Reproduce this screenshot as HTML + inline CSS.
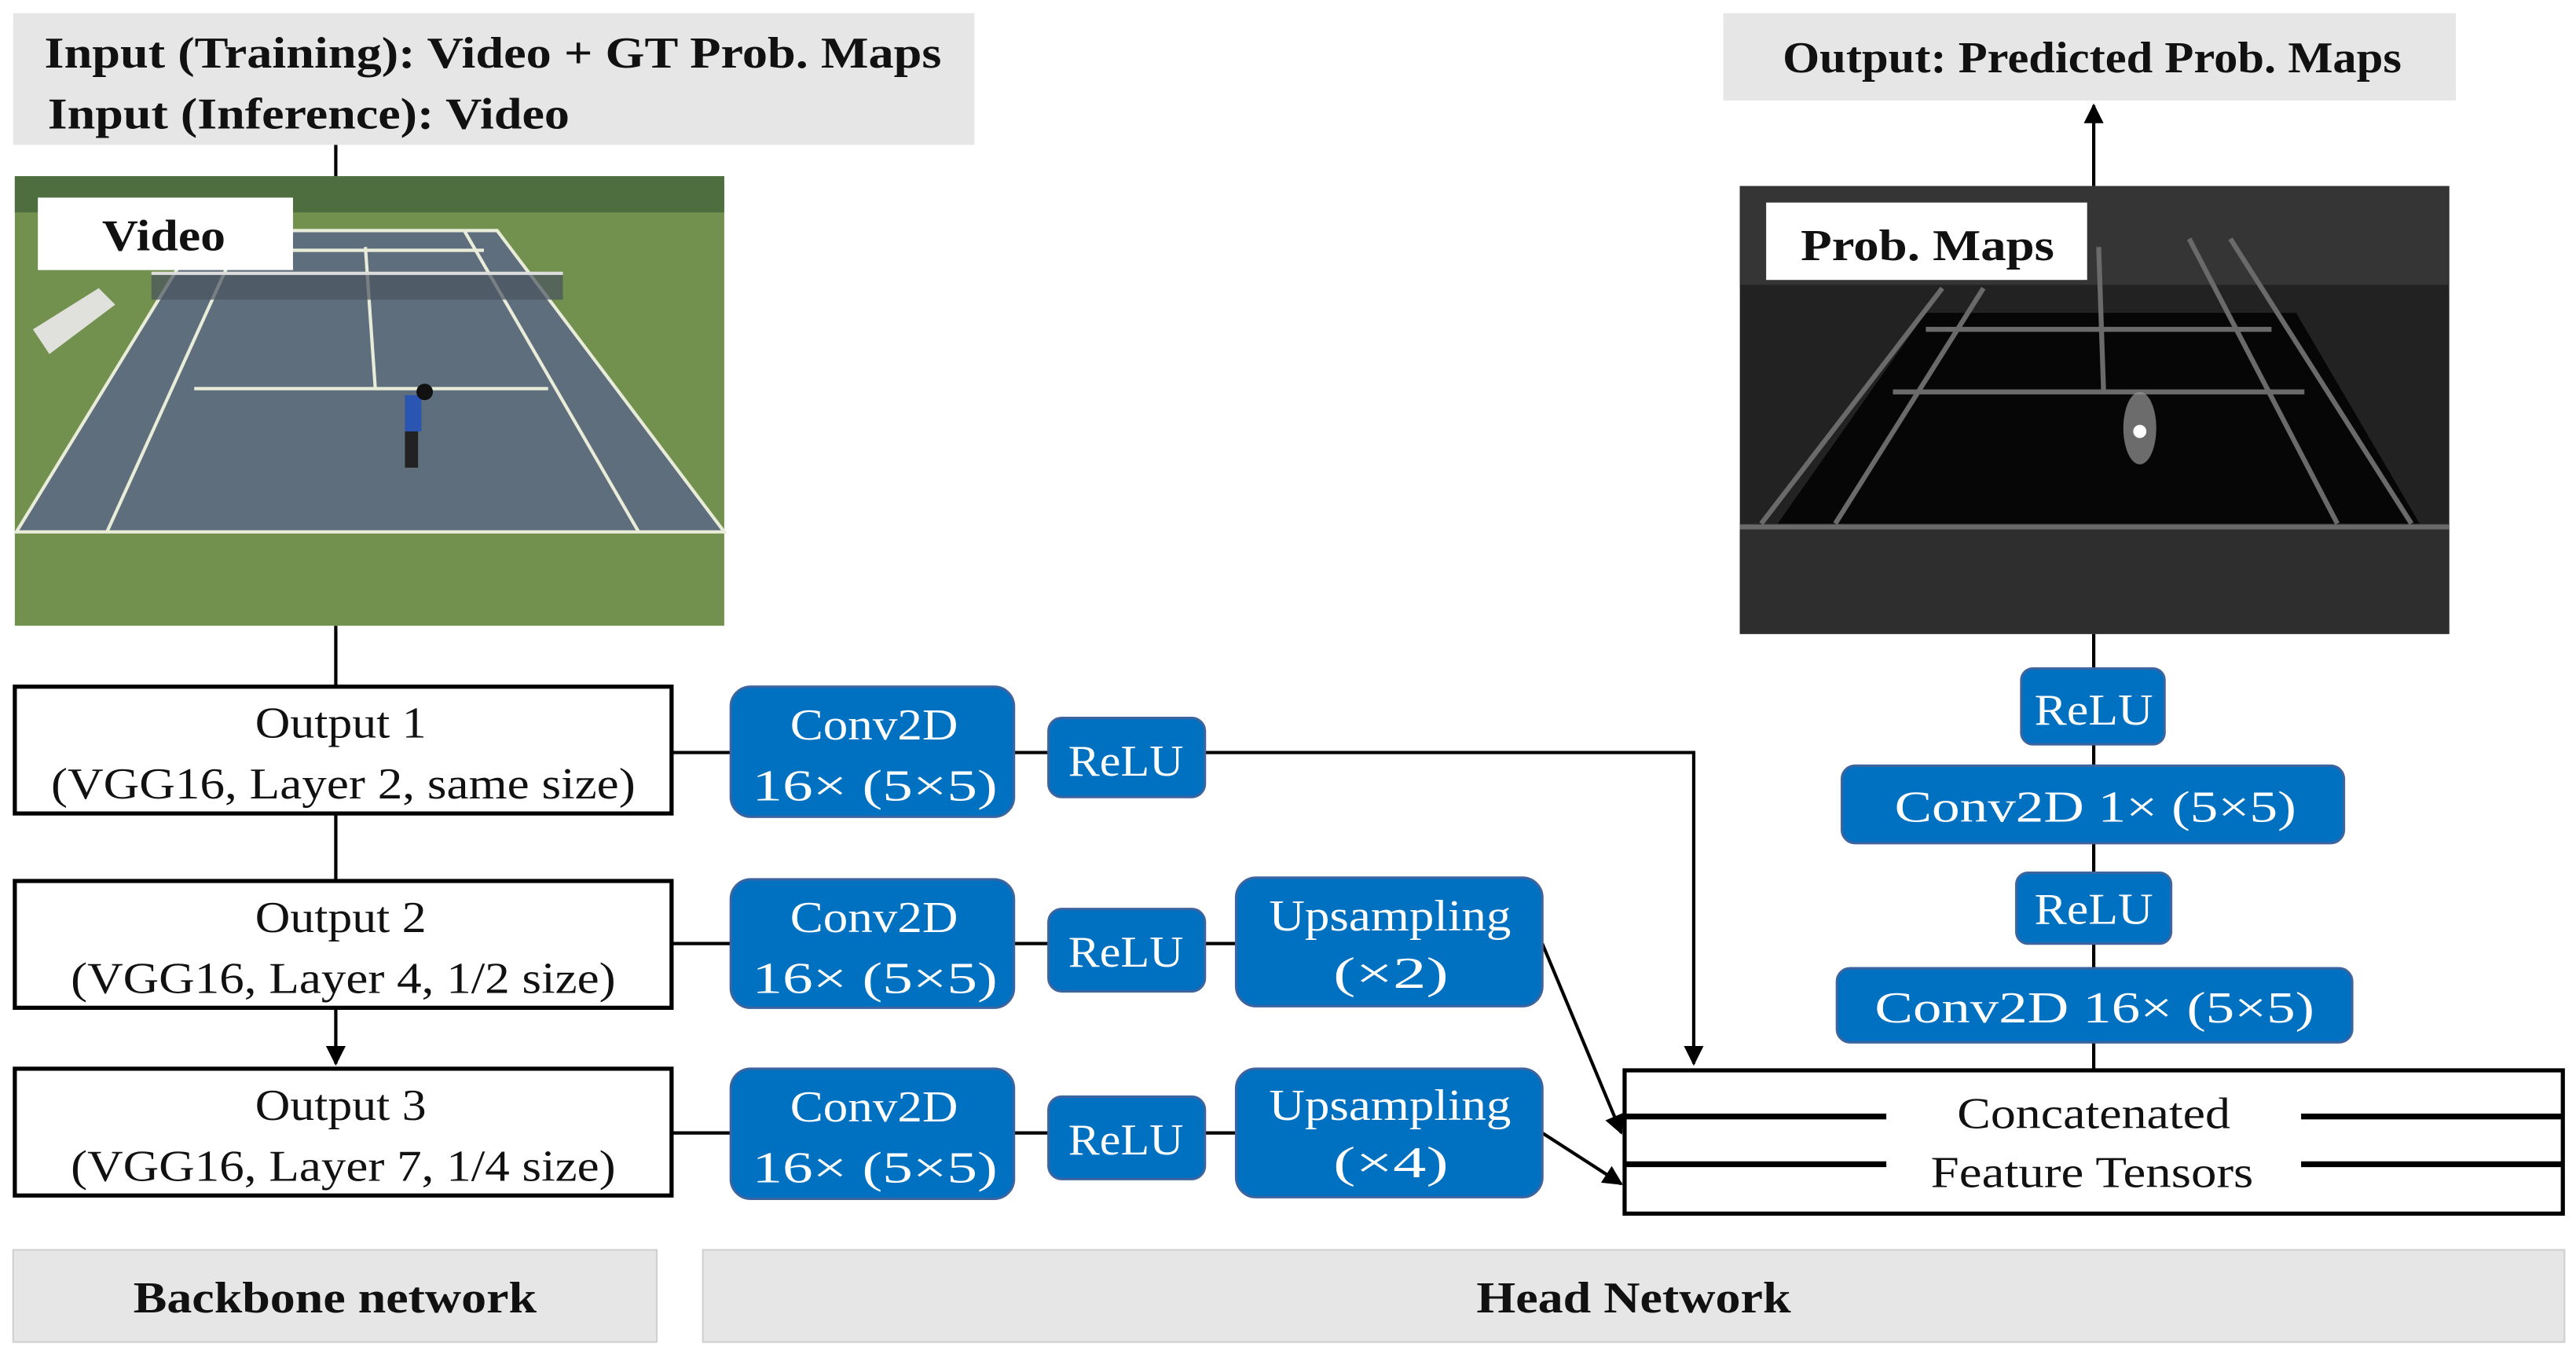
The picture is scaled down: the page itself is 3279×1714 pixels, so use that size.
<!DOCTYPE html>
<html><head><meta charset="utf-8"><style>
html,body{margin:0;padding:0;background:#fff;}
svg{display:block;}
text{font-family:"Liberation Serif",serif;}
.b{font-weight:bold;fill:#111;}
.w{fill:#fff;}
</style></head><body>
<svg width="3279" height="1714" viewBox="0 0 1565 818" preserveAspectRatio="none" xmlns="http://www.w3.org/2000/svg">
<defs>
<marker id="ar" viewBox="0 0 10 10" refX="9" refY="5" markerWidth="6.5" markerHeight="6" orient="auto-start-reverse" markerUnits="strokeWidth"><path d="M0,0 L10,5 L0,10 z" fill="#000"/></marker>
</defs>
<rect x="8" y="8" width="584" height="80" fill="#e6e6e6"/>
<text class="b" x="27" y="41" font-size="27" textLength="545" lengthAdjust="spacingAndGlyphs">Input (Training): Video + GT Prob. Maps</text>
<text class="b" x="29" y="78" font-size="27" textLength="317" lengthAdjust="spacingAndGlyphs">Input (Inference): Video</text>
<rect x="1047" y="8" width="445" height="53" fill="#e6e6e6"/>
<text class="b" x="1083" y="44" font-size="27" textLength="376" lengthAdjust="spacingAndGlyphs">Output: Predicted Prob. Maps</text>

<g stroke="#000" stroke-width="2" fill="none">
<line x1="204" y1="88" x2="204" y2="108"/>
<line x1="204" y1="380" x2="204" y2="416"/>
<line x1="204" y1="494" x2="204" y2="534"/>
<line x1="204" y1="612" x2="204" y2="646" marker-end="url(#ar)"/>
<line x1="408" y1="457" x2="444" y2="457"/>
<line x1="616" y1="457" x2="637" y2="457"/>
<polyline points="732,457 1029,457 1029,646" marker-end="url(#ar)"/>
<line x1="408" y1="573" x2="444" y2="573"/>
<line x1="616" y1="573" x2="637" y2="573"/>
<line x1="732" y1="573" x2="751" y2="573"/>
<line x1="937" y1="573" x2="985" y2="688" marker-end="url(#ar)"/>
<line x1="408" y1="688" x2="444" y2="688"/>
<line x1="616" y1="688" x2="637" y2="688"/>
<line x1="732" y1="688" x2="751" y2="688"/>
<line x1="937" y1="688" x2="985" y2="719" marker-end="url(#ar)"/>
<line x1="1272" y1="385" x2="1272" y2="649"/>
<line x1="1272" y1="113" x2="1272" y2="64" marker-end="url(#ar)"/>
</g>

<g>
<rect x="9" y="107" width="431" height="273" fill="#72904e"/>
<rect x="9" y="107" width="431" height="22" fill="#4f6e40"/>
<polygon points="122,140 302,140 440,323 10,323" fill="#5f6e7c"/>
<g stroke="#e8ecd8" stroke-width="2" fill="none">
<polygon points="122,140 302,140 440,323 10,323"/>
<line x1="148" y1="140" x2="65" y2="323"/>
<line x1="282" y1="140" x2="388" y2="323"/>
<line x1="118" y1="236" x2="333" y2="236"/>
<line x1="222" y1="150" x2="228" y2="236"/>
<line x1="138" y1="152" x2="294" y2="152"/>
</g>
<rect x="92" y="166" width="250" height="16" fill="#4a5360" opacity="0.7"/>
<line x1="92" y1="166" x2="342" y2="166" stroke="#ddd" stroke-width="2"/>
<polygon points="20,200 60,175 70,185 30,215" fill="#e0e0dc"/>
<rect x="246" y="240" width="10" height="22" fill="#2a55b0"/>
<rect x="246" y="262" width="8" height="22" fill="#222"/>
<circle cx="258" cy="238" r="5" fill="#111"/>
<rect x="23" y="120" width="155" height="44" fill="#fff"/>
<text class="b" x="62" y="152" font-size="27" textLength="75" lengthAdjust="spacingAndGlyphs">Video</text>
</g>

<g>
<rect x="1057" y="113" width="431" height="272" fill="#222"/>
<rect x="1057" y="113" width="431" height="60" fill="#353535"/>
<polygon points="1170,190 1395,190 1470,318 1080,318" fill="#060606"/>
<rect x="1057" y="318" width="431" height="67" fill="#2e2e2e"/>
<g stroke="#6a6a6a" stroke-width="3" fill="none">
<line x1="1057" y1="320" x2="1488" y2="320"/>
<line x1="1180" y1="175" x2="1070" y2="318"/>
<line x1="1205" y1="175" x2="1115" y2="318"/>
<line x1="1330" y1="145" x2="1420" y2="318"/>
<line x1="1355" y1="145" x2="1465" y2="318"/>
<line x1="1150" y1="238" x2="1400" y2="238"/>
<line x1="1275" y1="150" x2="1278" y2="238"/>
<line x1="1170" y1="200" x2="1380" y2="200"/>
</g>
<ellipse cx="1300" cy="260" rx="10" ry="22" fill="#999" opacity="0.7"/>
<circle cx="1300" cy="262" r="4" fill="#fff"/>
<rect x="1073" y="123" width="195" height="47" fill="#fff"/>
<text class="b" x="1094" y="158" font-size="27" textLength="154" lengthAdjust="spacingAndGlyphs">Prob. Maps</text>
</g>

<g fill="#fff" stroke="#000" stroke-width="2.5">
<rect x="9" y="417" width="399" height="77"/>
<rect x="9" y="535" width="399" height="77"/>
<rect x="9" y="649" width="399" height="77"/>
</g>
<g font-size="27" fill="#111">
<text x="155" y="448" textLength="104" lengthAdjust="spacingAndGlyphs">Output 1</text>
<text x="31" y="485" textLength="355" lengthAdjust="spacingAndGlyphs">(VGG16, Layer 2, same size)</text>
<text x="155" y="566" textLength="104" lengthAdjust="spacingAndGlyphs">Output 2</text>
<text x="43" y="603" textLength="331" lengthAdjust="spacingAndGlyphs">(VGG16, Layer 4, 1/2 size)</text>
<text x="155" y="680" textLength="104" lengthAdjust="spacingAndGlyphs">Output 3</text>
<text x="43" y="717" textLength="331" lengthAdjust="spacingAndGlyphs">(VGG16, Layer 7, 1/4 size)</text>
</g>

<g fill="#0070c0" stroke="#3b64a0" stroke-width="1.5">
<rect x="444" y="417" width="172" height="79" rx="12"/>
<rect x="444" y="534" width="172" height="78" rx="12"/>
<rect x="444" y="649" width="172" height="79" rx="12"/>
<rect x="637" y="436" width="95" height="48" rx="8"/>
<rect x="637" y="552" width="95" height="50" rx="8"/>
<rect x="637" y="666" width="95" height="50" rx="8"/>
<rect x="751" y="533" width="186" height="78" rx="12"/>
<rect x="751" y="649" width="186" height="78" rx="12"/>
<rect x="1228" y="406" width="87" height="46" rx="7"/>
<rect x="1119" y="465" width="305" height="47" rx="8"/>
<rect x="1225" y="530" width="94" height="43" rx="7"/>
<rect x="1116" y="588" width="313" height="45" rx="8"/>
</g>
<g class="w" font-size="27">
<text x="480" y="449" textLength="102" lengthAdjust="spacingAndGlyphs">Conv2D</text>
<text x="457" y="486" textLength="149" lengthAdjust="spacingAndGlyphs">16× (5×5)</text>
<text x="480" y="566" textLength="102" lengthAdjust="spacingAndGlyphs">Conv2D</text>
<text x="457" y="603" textLength="149" lengthAdjust="spacingAndGlyphs">16× (5×5)</text>
<text x="480" y="681" textLength="102" lengthAdjust="spacingAndGlyphs">Conv2D</text>
<text x="457" y="718" textLength="149" lengthAdjust="spacingAndGlyphs">16× (5×5)</text>
<text x="649" y="471" textLength="70" lengthAdjust="spacingAndGlyphs">ReLU</text>
<text x="649" y="587" textLength="70" lengthAdjust="spacingAndGlyphs">ReLU</text>
<text x="649" y="701" textLength="70" lengthAdjust="spacingAndGlyphs">ReLU</text>
<text x="771" y="565" textLength="147" lengthAdjust="spacingAndGlyphs">Upsampling</text>
<text x="810" y="600" textLength="70" lengthAdjust="spacingAndGlyphs">(×2)</text>
<text x="771" y="680" textLength="147" lengthAdjust="spacingAndGlyphs">Upsampling</text>
<text x="810" y="715" textLength="70" lengthAdjust="spacingAndGlyphs">(×4)</text>
<text x="1236" y="440" textLength="72" lengthAdjust="spacingAndGlyphs">ReLU</text>
<text x="1151" y="499" textLength="244" lengthAdjust="spacingAndGlyphs">Conv2D 1× (5×5)</text>
<text x="1236" y="561" textLength="72" lengthAdjust="spacingAndGlyphs">ReLU</text>
<text x="1139" y="621" textLength="267" lengthAdjust="spacingAndGlyphs">Conv2D 16×  (5×5)</text>
</g>

<rect x="987" y="650" width="570" height="87" fill="#fff" stroke="#000" stroke-width="2.5"/>
<g stroke="#000" stroke-width="3.5">
<line x1="987" y1="678" x2="1146" y2="678"/>
<line x1="987" y1="707" x2="1146" y2="707"/>
<line x1="1398" y1="678" x2="1557" y2="678"/>
<line x1="1398" y1="707" x2="1557" y2="707"/>
</g>
<text x="1189" y="685" font-size="27" fill="#111" textLength="166" lengthAdjust="spacingAndGlyphs">Concatenated</text>
<text x="1173" y="721" font-size="27" fill="#111" textLength="196" lengthAdjust="spacingAndGlyphs">Feature Tensors</text>

<rect x="8" y="759" width="391" height="56" fill="#e6e6e6" stroke="#d0d0d0" stroke-width="1"/>
<rect x="427" y="759" width="1131" height="56" fill="#e6e6e6" stroke="#d0d0d0" stroke-width="1"/>
<text class="b" x="81" y="797" font-size="27" textLength="245" lengthAdjust="spacingAndGlyphs">Backbone network</text>
<text class="b" x="897" y="797" font-size="27" textLength="191" lengthAdjust="spacingAndGlyphs">Head Network</text>
</svg>
</body></html>
